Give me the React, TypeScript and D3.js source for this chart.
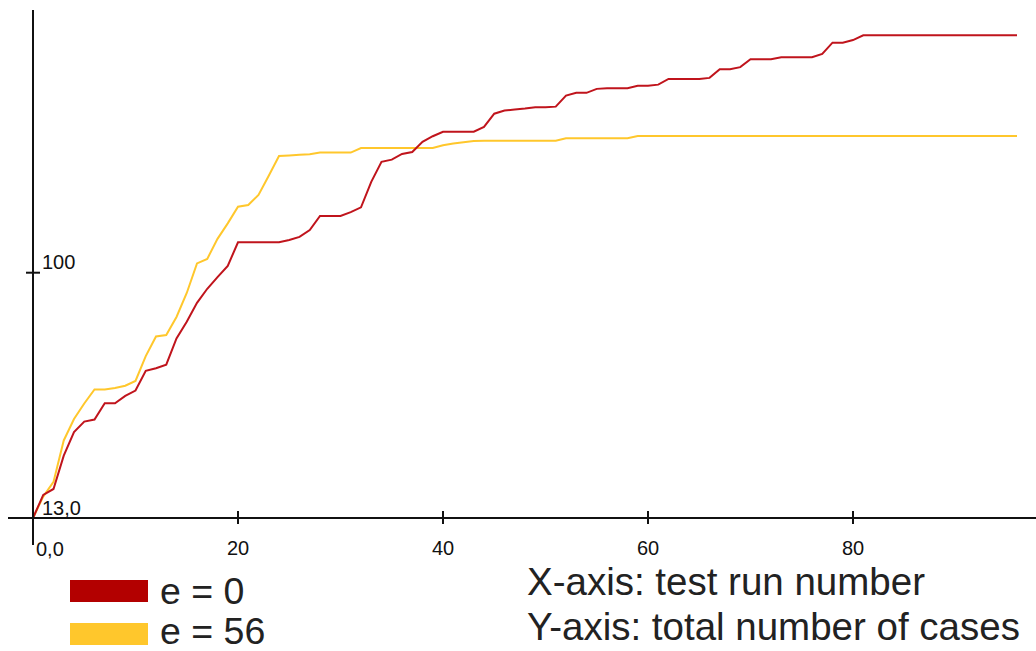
import React from 'react';
import * as d3 from 'd3';

// test run numbers 0..96
const runs = d3.range(0, 97);

// e = 0 (red), total number of cases per run
const redValues = [
  13, 21.2, 23.3, 35.1, 43.5, 47.2, 47.9, 53.7, 53.7, 56.3,
  58.2, 65.2, 66.1, 67.4, 76.7, 82.6, 89.3, 94.3, 98.4, 102.4,
  110.8, 110.8, 110.8, 110.8, 110.8, 111.6, 112.7, 115.1, 120.1, 120.1,
  120.1, 121.5, 123.2, 132.2, 139.3, 140.1, 142.1, 142.8, 146.4, 148.4,
  150, 150, 150, 150, 151.7, 156.4, 157.5, 157.9, 158.2, 158.7,
  158.7, 158.9, 162.8, 163.8, 163.8, 165.2, 165.4, 165.4, 165.4, 166.3,
  166.3, 166.7, 168.7, 168.7, 168.7, 168.7, 169.1, 172.2, 172.2, 172.9,
  175.7, 175.7, 175.7, 176.4, 176.4, 176.4, 176.4, 177.6, 181.6, 181.6,
  182.5, 184.2, 184.2, 184.2, 184.2, 184.2, 184.2, 184.2, 184.2, 184.2,
  184.2, 184.2, 184.2, 184.2, 184.2, 184.2, 184.2,
];

// e = 56 (yellow)
const yellowValues = [
  13, 20.6, 25.8, 40.5, 48.1, 53.6, 58.6, 58.6, 59.1, 59.9,
  61.6, 70.4, 77.4, 77.9, 84.3, 92.8, 103.3, 104.9, 112, 117.5,
  123.4, 124, 127.6, 134.4, 141.4, 141.6, 141.8, 142, 142.6, 142.6,
  142.6, 142.6, 144.2, 144.2, 144.2, 144.2, 144.2, 144.2, 144.2, 144.2,
  145.2, 145.8, 146.3, 146.7, 146.8, 146.8, 146.8, 146.8, 146.8, 146.8,
  146.8, 146.8, 147.7, 147.7, 147.7, 147.7, 147.7, 147.7, 147.7, 148.5,
  148.5, 148.5, 148.5, 148.5, 148.5, 148.5, 148.5, 148.5, 148.5, 148.5,
  148.5, 148.5, 148.5, 148.5, 148.5, 148.5, 148.5, 148.5, 148.5, 148.5,
  148.5, 148.5, 148.5, 148.5, 148.5, 148.5, 148.5, 148.5, 148.5, 148.5,
  148.5, 148.5, 148.5, 148.5, 148.5, 148.5, 148.5,
];

const xTicks = [20, 40, 60, 80];
const yTicks = [100];
const legendLabels = ['e = 0', 'e = 56'];
const axisNotes = ['X-axis: test run number', 'Y-axis: total number of cases'];

const RED = '#c0141c';
const YELLOW = '#ffc72c';
const LEGEND_COLORS = ['#b30000', '#ffc72c'];
const FONT = '"Liberation Sans", Arial, sans-serif';

const App = () => {
  const width = 1036;
  const height = 651;

  // x axis scale
  const xScale = d3.scaleLinear().domain([0, 96]).range([33, 1017]);
  // y axis scale (axis starts at 13)
  const yScale = d3.scaleLinear().domain([13, 100]).range([518, 272.7]);

  const line = d3.line<number>()
    .x((d, i) => xScale(runs[i]))
    .y(d => yScale(d));

  const x0 = xScale(0);
  const y0 = yScale(13);

  return (
    <svg width={width} height={height} style={{ position: 'absolute', left: 0, top: 0, background: '#fff' }}>
      {/* lines */}
      <path d={line(yellowValues) || ''} fill="none" stroke={YELLOW} strokeWidth={2} />
      <path d={line(redValues) || ''} fill="none" stroke={RED} strokeWidth={2} />

      {/* axes */}
      <line x1={x0} x2={x0} y1={10} y2={545} stroke="#111" strokeWidth={2} />
      <line x1={8} x2={width} y1={y0} y2={y0} stroke="#111" strokeWidth={2} />

      {xTicks.map(t => (
        <g key={t}>
          <line x1={xScale(t)} x2={xScale(t)} y1={y0 - 7} y2={y0 + 6} stroke="#111" strokeWidth={2} />
          <text x={xScale(t)} y={555} textAnchor="middle" fontFamily={FONT} fontSize={20} fill="#111">{t}</text>
        </g>
      ))}
      {yTicks.map(t => (
        <g key={t}>
          <line x1={x0 - 7} x2={x0 + 7} y1={yScale(t)} y2={yScale(t)} stroke="#111" strokeWidth={2} />
          <text x={x0 + 9} y={yScale(t) - 4} fontFamily={FONT} fontSize={20} fill="#111">{t}</text>
        </g>
      ))}
      <text x={x0 + 3} y={556} fontFamily={FONT} fontSize={20} fill="#111">0,0</text>
      <text x={x0 + 9} y={y0 - 3} fontFamily={FONT} fontSize={20} fill="#111">13,0</text>

      {/* legend */}
      {legendLabels.map((lab, i) => (
        <g key={lab}>
          <rect x={70} y={580 + i * 43} width={78} height={22} fill={LEGEND_COLORS[i]} />
          <text x={160} y={604 + i * 40} fontFamily={FONT} fontSize={37.5} fill="#222">{lab}</text>
        </g>
      ))}
      {axisNotes.map((note, i) => (
        <text key={note} x={527} y={595 + i * 45} fontFamily={FONT} fontSize={38.5} fill="#222">{note}</text>
      ))}
    </svg>
  );
};

export default App;
